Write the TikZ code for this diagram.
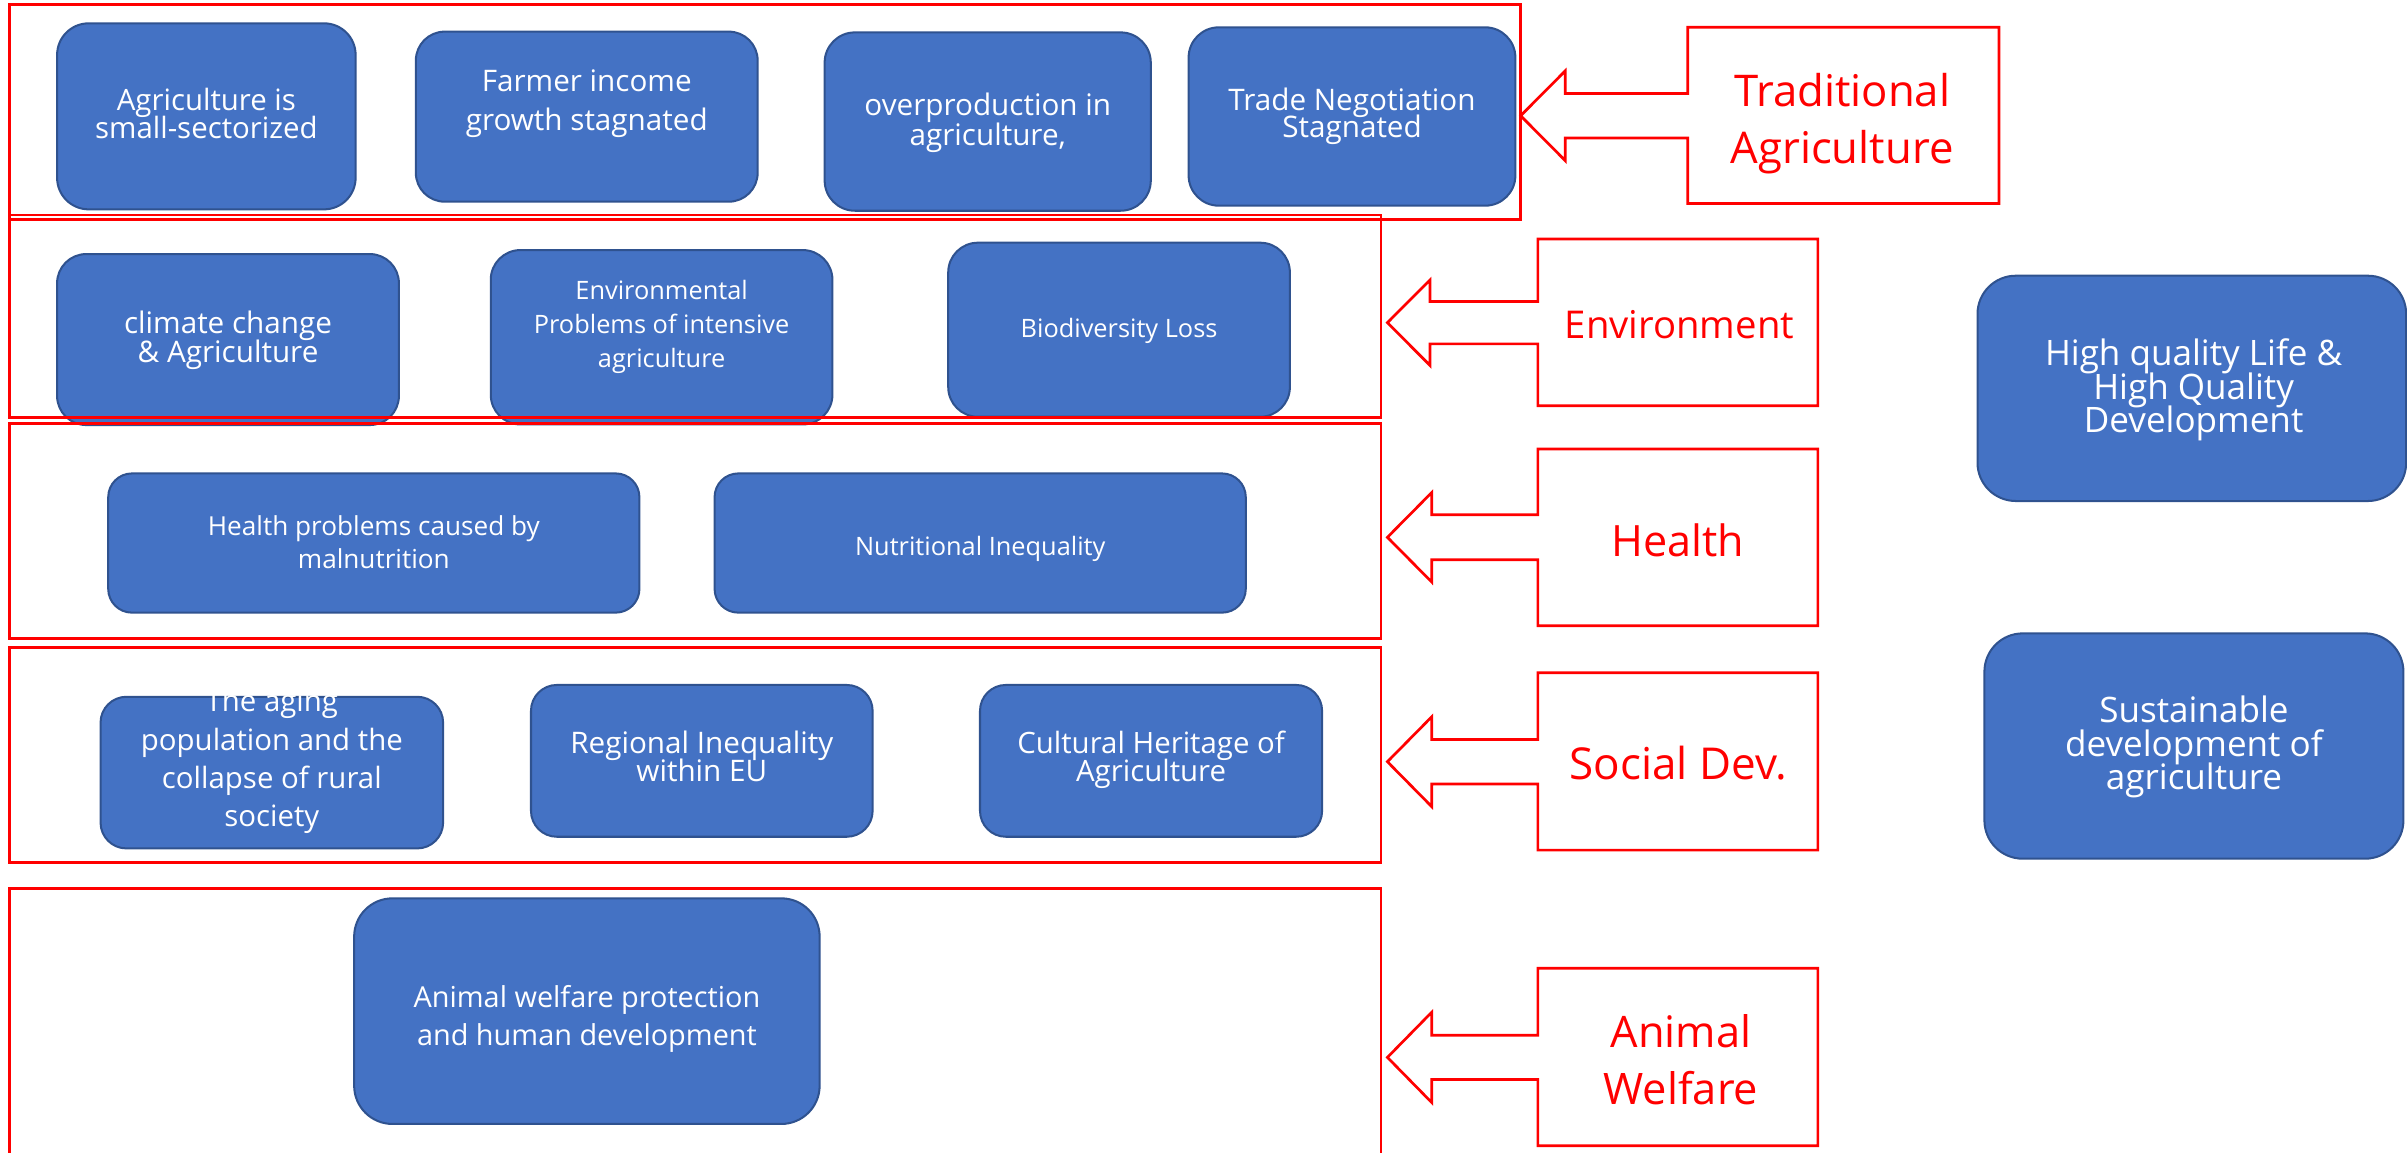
\documentclass[tikz,border=0pt]{standalone}
\usepackage{fontspec}
\setmainfont{Open Sans}
\definecolor{boxblue}{HTML}{4472C4}
\definecolor{boxedge}{HTML}{2F528F}
\definecolor{calred}{HTML}{FF0000}
\lineskiplimit=-100pt
\tikzset{
  bbox/.style={draw=boxedge, fill=boxblue, line width=0.75pt, inner sep=0pt, outer sep=0pt, anchor=north west, shape=rectangle},
  btext/.style={text=white, align=center, inner sep=0pt},
  grpframe/.style={draw=calred, line width=1pt, inner sep=0pt, outer sep=0pt, anchor=north west, shape=rectangle},
  callshape/.style={draw=calred, line width=1pt, fill=white, line join=miter},
  ctext/.style={text=calred, align=center, inner sep=0pt},
}
\newcommand{\BBox}[6]{\node[bbox, rounded corners=#6, minimum width={(#4-#2)*0.56906pt}, minimum height={(#5-#3)*0.56906pt}] (#1) at (#2,#3) {};}
\newcommand{\GFrame}[5]{\node[grpframe, minimum width={(#4-#2)*0.56906pt}, minimum height={(#5-#3)*0.56906pt}] (#1) at (#2,#3) {};}
\newcommand{\FS}[2]{\fontsize{#1pt}{#2pt}\selectfont}
\newcommand{\Callout}[9]{\draw[callshape] (#1,#3) -- (#2,#3) -- (#2,#4) -- (#1,#4) -- (#1,{#6+#8}) -- (#7,{#6+#8}) -- (#7,{#6+#9}) -- (#5,#6) -- (#7,{#6-#9}) -- (#7,{#6-#8}) -- (#1,{#6-#8}) -- cycle;}
\begin{document}
\begin{tikzpicture}[x=0.02cm, y=-0.02cm]
\clip (0,0) rectangle (1568,751);
% blue boxes
\BBox{a1}{37.2}{15.2}{231.7}{136.4}{11.7pt}
\BBox{a2}{270.9}{20.6}{493.6}{131.4}{10.7pt}
\BBox{a3}{537.2}{21.1}{749.7}{137.3}{11.2pt}
\BBox{a4}{774.3}{17.8}{987.2}{134}{11.2pt}
\BBox{e1}{37.2}{165.5}{259.9}{276.9}{10.8pt}
\BBox{e2}{319.7}{162.9}{542.3}{276.5}{11pt}
\BBox{e3}{617.7}{158.1}{840.3}{271.5}{11pt}
\BBox{h1}{70.5}{308.4}{416.6}{399.1}{8.8pt}
\BBox{h2}{465.5}{308.4}{811.6}{399.1}{8.8pt}
\BBox{s1}{65.5}{453.9}{288.7}{552.7}{9.6pt}
\BBox{s2}{345.9}{446.2}{568.5}{545.1}{9.6pt}
\BBox{s3}{638.4}{446.2}{861.3}{545.1}{9.6pt}
\BBox{w1}{230.7}{585.2}{534}{732.2}{14.2pt}
\BBox{r1}{1288.2}{179.6}{1567.5}{326.4}{14.2pt}
\BBox{r2}{1292.7}{412.6}{1565.7}{559.4}{14.2pt}
% box texts
\node[btext, font=\FS{10.9}{10.2}] (a1t) at (134.45,73.8) {Agriculture is\\small-sectorized};
\node[btext, font=\FS{11}{14.2}] (a2t) at (382.25,67.6) {Farmer income\\growth stagnated};
\node[btext, font=\FS{11}{11.1}] (a3t) at (643.45,79.8) {overproduction in\\agriculture,};
\node[btext, font=\FS{11}{10.2}] (a4t) at (880.75,75.9) {Trade Negotiation\\Stagnated};
\node[btext, font=\FS{11}{10.8}] (e1t) at (148.55,221.5) {climate change\\\& Agriculture};
\node[btext, font=\FS{9.4}{12.5}] (e2t) at (431,213) {Environmental\\Problems of intensive\\agriculture};
\node[btext, font=\FS{9.4}{12.5}] (e3t) at (729,215.8) {Biodiversity Loss};
\node[btext, font=\FS{9.7}{12.5}] (h1t) at (243.55,353.2) {Health problems caused by\\malnutrition};
\node[btext, font=\FS{9.4}{12.5}] (h2t) at (638.55,357.4) {Nutritional Inequality};
\node[btext, font=\FS{10.9}{14.2}] (s1t) at (177.1,496.2) {The aging\\population and the\\collapse of rural\\society};
\node[btext, font=\FS{11}{10.6}] (s2t) at (457.2,492.75) {Regional Inequality\\within EU};
\node[btext, font=\FS{10.9}{10.6}] (s3t) at (749.85,494.95) {Cultural Heritage of\\Agriculture};
\node[btext, font=\FS{10.7}{14.2}] (w1t) at (382.35,663.7) {Animal welfare protection\\and human development};
\node[btext, font=\FS{13}{12.5}] (r1t) at (1429,254.1) {High quality Life \&\\High Quality\\Development};
\node[btext, font=\FS{13}{12.5}] (r2t) at (1429.2,486.7) {Sustainable\\development of\\agriculture};
% group frames
\GFrame{f1}{6}{3}{990.7}{142.9}
\GFrame{f2}{6}{140.1}{899.7}{272.1}
\GFrame{f3}{6}{275.8}{899.7}{415.8}
\GFrame{f4}{6}{421.9}{899.7}{561.8}
\GFrame{f5}{6}{578.7}{899.7}{775}
% callouts
\Callout{1099.5}{1302.2}{17.8}{132.5}{990.6}{75.4}{1019.7}{14.45}{29.3}
\Callout{1001.8}{1184.2}{155.7}{264.3}{903.8}{210.2}{931.6}{13.8}{27.9}
\Callout{1001.8}{1184.2}{292.5}{407.6}{903.8}{350}{932.7}{14.65}{29.2}
\Callout{1001.8}{1184.2}{438.2}{553.8}{903.8}{496.2}{932.7}{14.45}{29.3}
\Callout{1001.8}{1184.2}{630.8}{746.4}{903.8}{688.8}{932.7}{14.4}{29.45}
\node[ctext, font=\FS{16.2}{21.2}] (t1) at (1200,80.35) {Traditional\\Agriculture};
\node[ctext, font=\FS{14.2}{17}] (t2) at (1094,211.4) {Environment};
\node[ctext, font=\FS{16}{19}] (t3) at (1093,352) {Health};
\node[ctext, font=\FS{16.3}{19}] (t4) at (1093.4,497.2) {Social Dev.};
\node[ctext, font=\FS{16.1}{21.2}] (t5) at (1095,690.5) {Animal\\Welfare};
\end{tikzpicture}
\end{document}
